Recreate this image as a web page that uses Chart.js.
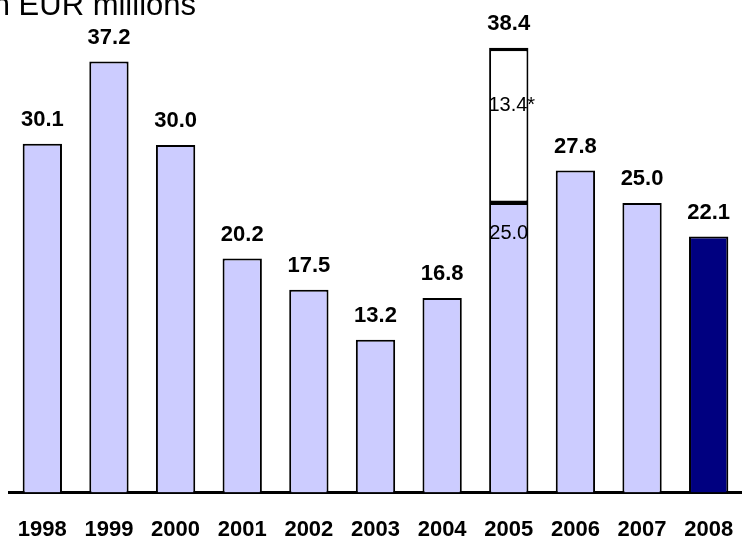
<!DOCTYPE html>
<html>
<head>
<meta charset="utf-8">
<script src="https://cdn.jsdelivr.net/npm/chart.js@4"></script>
<style>
  html, body { margin: 0; padding: 0; background: #fff; overflow: hidden; }
  #wrap { width: 742px; height: 538px; position: relative; }
</style>
</head>
<body>
<div id="wrap"><canvas id="myChart"></canvas></div>
<script>
'use strict';
// data
const years = ['1998', '1999', '2000', '2001', '2002', '2003', '2004', '2005', '2006', '2007', '2008'];
const baseValues = [30.1, 37.2, 30.0, 20.2, 17.5, 13.2, 16.8, 25.0, 27.8, 25.0, 22.1];
const extraValues = [null, null, null, null, null, null, null, 13.4, null, null, null];
const extraNote = '*';
const unitTitle = 'in EUR millions';

const lavender = '#ccccff';
const navy = '#000080';
const barColors = baseValues.map((v, i) => (i === baseValues.length - 1 ? navy : lavender));
const fontFamily = '"Liberation Sans", Arial, sans-serif';

// labels on top of the bars + the split labels inside 2005
const labelPlugin = {
    id: 'labels',
    afterDatasetsDraw(chart) {
        const ctx = chart.ctx;
        const base = chart.getDatasetMeta(0).data;
        const extra = chart.getDatasetMeta(1).data;
        ctx.save();
        ctx.fillStyle = '#000';
        ctx.textAlign = 'center';
        ctx.textBaseline = 'alphabetic';
        base.forEach((bar, i) => {
            let top = bar.y;
            let total = baseValues[i];
            if (extraValues[i] != null) {
                top = extra[i].y;
                total = baseValues[i] + extraValues[i];
                // inner labels
                ctx.font = '20px ' + fontFamily;
                ctx.fillText(extraValues[i].toFixed(1) + extraNote, bar.x + 3, top + (bar.y - top) * 0.41);
                ctx.fillText(baseValues[i].toFixed(1), bar.x, bar.y + 36);
            }
            ctx.font = 'bold 22px ' + fontFamily;
            ctx.fillText(total.toFixed(1), bar.x, top - 18);
        });
        ctx.restore();
    },
    afterDraw(chart) {
        const ctx = chart.ctx;
        ctx.save();
        ctx.fillStyle = '#000';
        ctx.font = '31px ' + fontFamily;
        ctx.textAlign = 'right';
        ctx.textBaseline = 'alphabetic';
        ctx.fillText(unitTitle, 196, 15);
        ctx.restore();
    }
};

const config = {
    type: 'bar',
    data: {
        labels: years,
        datasets: [
            {
                data: baseValues,
                backgroundColor: barColors,
                borderColor: '#000',
                borderWidth: 2,
                borderSkipped: 'bottom',
                barPercentage: 0.59,
                categoryPercentage: 1,
            },
            {
                data: extraValues,
                backgroundColor: '#fff',
                borderColor: '#000',
                borderWidth: { top: 3.5, left: 2, right: 2, bottom: 2.5 },
                borderSkipped: false,
                barPercentage: 0.59,
                categoryPercentage: 1,
            },
        ],
    },
    options: {
        responsive: true,
        maintainAspectRatio: false,
        animation: false,
        layout: { padding: { left: 9, right: 0, top: 6, bottom: -21 } },
        plugins: {
            legend: { display: false },
            tooltip: { enabled: false },
        },
        scales: {
            x: {
                stacked: true,
                grid: { display: false },
                border: { color: '#000', width: 3 },
                ticks: {
                    color: '#000',
                    padding: 16,
                    font: { family: fontFamily, size: 22, weight: 'bold' },
                    maxRotation: 0,
                },
                // labels fit inside their bars, no extra side room needed
                afterFit(scale) {
                    scale.paddingLeft = 0;
                    scale.paddingRight = 0;
                },
            },
            y: {
                stacked: true,
                display: false,
                min: 0,
                max: 42,
            },
        },
    },
    plugins: [labelPlugin],
};
new Chart(document.getElementById('myChart'), config);
</script>
</body>
</html>
